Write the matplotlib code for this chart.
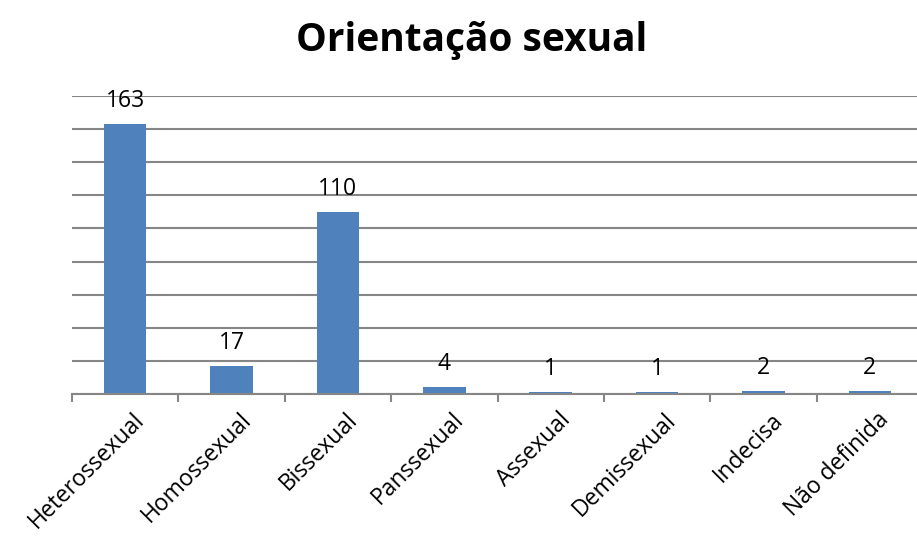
import matplotlib
matplotlib.use("Agg")
import matplotlib.pyplot as plt
import numpy as np

categories = ["Heterossexual", "Homossexual", "Bissexual", "Panssexual",
              "Assexual", "Demissexual", "Indecisa", "Não definida"]
values = [163, 17, 110, 4, 1, 1, 2, 2]

W, H = 917, 537
fig = plt.figure(figsize=(W / 100, H / 100), dpi=100)
left, right, bottom_px, top_px = 72, 923, 394, 96
ax = fig.add_axes([left / W, 1 - bottom_px / H, (right - left) / W, (bottom_px - top_px) / H])

x = np.arange(len(categories))
ax.bar(x, values, width=0.4, color="#4F81BD", zorder=3)
ax.set_xlim(-0.5, len(categories) - 0.5)
ax.set_ylim(0, 180)
ax.set_yticks(np.arange(0, 181, 20))
ax.yaxis.grid(True, color="#868686", linewidth=1.5)
ax.tick_params(axis="y", left=False, labelleft=False)
for s in ["top", "right", "left"]:
    ax.spines[s].set_visible(False)
ax.spines["bottom"].set_color("#868686")
ax.spines["bottom"].set_linewidth(1.5)
ax.spines["bottom"].set_zorder(4)

font = "Open Sans"
ax.set_xticks(x + 0.07)
ax.set_xticklabels(categories, rotation=45, ha="right", va="top",
                   rotation_mode="anchor", fontsize=16.5, family=font)
ax.tick_params(axis="x", which="major", length=0, pad=10)
ax.set_xticks(np.arange(-0.5, len(categories), 1), minor=True)
ax.tick_params(axis="x", which="minor", length=6, width=1.5, color="#868686")

for xi, v in zip(x, values):
    ax.annotate(str(v), (xi, v), xytext=(0, 8), textcoords="offset points",
                ha="center", va="bottom", fontsize=16.5, family=font)

fig.text(472 / W, 1 - 40 / H, "Orientação sexual", ha="center", va="center",
         fontsize=28, fontweight="bold", family=font)

fig.savefig("out.png", dpi=100)
